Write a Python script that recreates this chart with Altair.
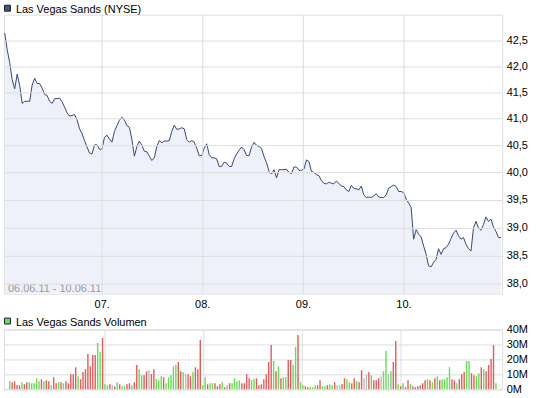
import altair as alt
import pandas as pd

FONT = "Liberation Sans"
TITLE_PRICE = "Las Vegas Sands (NYSE)"
TITLE_VOLUME = "Las Vegas Sands Volumen"
DATE_RANGE = "06.06.11 - 10.06.11"
DAY_LABELS = ["07.", "08.", "09.", "10."]
DAY_TICKS = [38.9, 79.2, 119.6, 159.9]
PRICE_TICKS = [38.0, 38.5, 39.0, 39.5, 40.0, 40.5, 41.0, 41.5, 42.0, 42.5]
VOLUME_TICKS = [0, 10, 20, 30, 40]
PRICE_DOMAIN = [37.83, 43.01]
VOLUME_DOMAIN = [0, 40]
X_DOMAIN = [-0.3, 199.5]

PRICE_D1 = [42.65, 42.32, 42.07, 41.74, 41.57, 41.85, 41.63, 41.29, 41.33, 41.33,
            41.33, 41.64, 41.77, 41.67, 41.67, 41.58, 41.46, 41.44, 41.33, 41.29,
            41.38, 41.38, 41.39, 41.32, 41.22, 41.11, 41.05, 41.06, 41.08, 40.98,
            40.81, 40.72, 40.59, 40.47, 40.36, 40.34, 40.51, 40.51, 40.43, 40.43]
PRICE_D2 = [40.65, 40.69, 40.62, 40.56, 40.76, 40.87, 40.97, 41.03, 40.97, 40.87,
            40.84, 40.61, 40.30, 40.48, 40.58, 40.50, 40.39, 40.38, 40.30, 40.22,
            40.27, 40.48, 40.59, 40.55, 40.58, 40.58, 40.59, 40.76, 40.88, 40.80,
            40.81, 40.83, 40.81, 40.61, 40.56, 40.59, 40.56, 40.45, 40.31, 40.31]
PRICE_D3 = [40.45, 40.53, 40.33, 40.27, 40.27, 40.25, 40.11, 40.11, 40.19, 40.17,
            40.11, 40.11, 40.25, 40.34, 40.41, 40.47, 40.42, 40.31, 40.31, 40.47,
            40.56, 40.50, 40.48, 40.44, 40.29, 40.18, 40.02, 39.97, 40.05, 39.90,
            40.05, 40.05, 40.05, 40.06, 40.00, 39.98, 40.10, 40.10, 40.04, 40.04]
PRICE_D4 = [40.06, 40.23, 40.20, 40.02, 40.00, 39.96, 39.94, 39.85, 39.80, 39.79,
            39.82, 39.80, 39.79, 39.84, 39.80, 39.75, 39.74, 39.68, 39.65, 39.76,
            39.71, 39.70, 39.68, 39.75, 39.59, 39.54, 39.55, 39.54, 39.57, 39.61,
            39.55, 39.54, 39.54, 39.59, 39.71, 39.74, 39.77, 39.74, 39.65, 39.65]
PRICE_D5 = [39.63, 39.51, 39.44, 39.36, 38.79, 38.96, 38.88, 38.83, 38.67, 38.52,
            38.32, 38.30, 38.38, 38.43, 38.62, 38.52, 38.62, 38.64, 38.70, 38.80,
            38.90, 38.95, 38.85, 38.79, 38.82, 38.70, 38.62, 38.58, 38.99, 39.11,
            38.99, 38.95, 39.05, 39.19, 39.11, 39.15, 39.01, 38.93, 38.82, 38.82]

VOL_D1 = [5.4, 4.7, 5.4, 2.7, 2.7, 4.7, 3.4, 4.7, 4.7, 4.0, 4.0, 7.4, 5.4, 6.7, 5.4, 6.0, 5.4, 2.7, 8.0, 4.0,
          4.7, 4.7, 4.0, 5.4, 4.0, 10.1, 10.1, 14.8, 8.8, 6.7, 11.5, 13.5, 23.6, 15.5, 22.9, 22.9, 31.0, 24.9, 34.4, 3.4]
VOL_D2 = [2.7, 3.4, 2.7, 2.0, 4.7, 3.4, 2.0, 2.0, 3.4, 4.0, 2.7, 4.7, 16.2, 13.5, 9.4, 9.4, 12.1, 12.8, 10.1, 13.5,
          6.7, 6.0, 8.8, 8.0, 4.0, 8.0, 9.4, 15.5, 16.2, 18.2, 12.1, 11.5, 10.1, 10.1, 8.8, 11.5, 14.8, 13.5, 33.0, 2.7]
VOL_D3 = [8.0, 3.4, 4.0, 4.0, 4.0, 2.0, 3.4, 4.7, 1.3, 2.7, 4.0, 4.0, 7.4, 5.4, 6.0, 4.0, 4.0, 10.1, 7.4, 6.0,
          6.7, 7.4, 2.7, 3.4, 6.7, 10.1, 18.2, 29.7, 18.9, 12.1, 15.5, 7.4, 8.0, 8.0, 19.6, 19.6, 16.2, 28.3, 36.4, 4.7]
VOL_D4 = [2.7, 2.0, 1.3, 1.3, 1.3, 2.7, 2.7, 6.0, 2.0, 2.0, 2.7, 3.4, 2.7, 4.7, 2.7, 2.7, 3.4, 7.4, 6.7, 4.7,
          4.0, 7.4, 5.4, 4.7, 12.8, 7.4, 10.1, 11.5, 9.4, 6.0, 6.0, 7.4, 8.8, 12.1, 25.6, 10.1, 12.1, 18.2, 32.4, 3.4]
VOL_D5 = [2.0, 4.0, 1.3, 6.0, 3.4, 2.0, 1.3, 2.0, 2.7, 4.0, 6.0, 6.7, 6.0, 4.7, 7.4, 8.8, 6.0, 6.7, 6.7, 8.0,
          14.8, 6.7, 6.0, 4.0, 6.7, 10.1, 11.5, 18.9, 18.9, 10.8, 9.4, 8.8, 10.8, 14.8, 13.5, 12.1, 16.2, 20.2, 29.7, 4.0]

# u = up (green), d = down (red), n = unchanged (grey)
DIR_D1 = "u d d d d u d d u u u u u d u d d u d d u d u d d d d d u d d d d d d d u u d u".split()
DIR_D2 = "u d n d u d u u d d u d d u u d d n d d u u u d u u u u u d d u n d d u d d d u".split()
DIR_D3 = "u d u u d d d u d u d u u u u d d d d u u d d d d d d d u d u d u u d d u u d u".split()
DIR_D4 = "u d d u u u d d u u d u u d n n d d u u d d u d d n n d u d d d n u u n u d d u".split()
DIR_D5 = "d u d d u d d d d d d u d u d u d u u u u d d u d d d u u d d u u d u d d d d u".split()

PRICE = PRICE_D1 + PRICE_D2 + PRICE_D3 + PRICE_D4 + PRICE_D5
VOLUME = VOL_D1 + VOL_D2 + VOL_D3 + VOL_D4 + VOL_D5
DIRECTION = DIR_D1 + DIR_D2 + DIR_D3 + DIR_D4 + DIR_D5
n = len(PRICE)
assert len(VOLUME) == n and len(DIRECTION) == n, (len(PRICE), len(VOLUME), len(DIRECTION))

df = pd.DataFrame({"t": list(range(n)), "price": PRICE, "volume": VOLUME, "dir": DIRECTION})

GRID = "#dddddd"
tick_list = "[" + ",".join(str(v) for v in DAY_TICKS) + "]"
label_list = "[" + ",".join("'" + s + "'" for s in DAY_LABELS) + "]"
day_label_expr = f"{label_list}[indexof({tick_list}, datum.value)]"

xscale = alt.Scale(domain=X_DOMAIN, nice=False, zero=False)

x_price = alt.X("t:Q", scale=xscale,
                axis=alt.Axis(values=DAY_TICKS, labelExpr=day_label_expr, grid=True, ticks=False,
                              tickSize=0, domain=False, title=None, labelPadding=5, labelFontSize=11,
                              labelColor="#000000", labelFont=FONT, gridColor=GRID, zindex=1,
                              labelFlush=False, labelOverlap=False))
y_price = alt.Y("price:Q",
                scale=alt.Scale(type="log", domain=PRICE_DOMAIN, nice=False, zero=False),
                axis=alt.Axis(orient="right", values=PRICE_TICKS,
                              labelExpr="replace(format(datum.value, '.1f'), '.', ',')",
                              grid=True, ticks=False, tickSize=0, domain=False, title=None,
                              labelPadding=4, labelFontSize=11, labelColor="#000000", labelFont=FONT,
                              gridColor=GRID, zindex=1, labelFlush=False, labelOverlap=False))

area = alt.Chart(df).mark_area(color="#eef1f9", clip=True).encode(
    x=x_price, y=y_price, y2=alt.datum(PRICE_DOMAIN[0]))
line = alt.Chart(df).mark_line(color="#34477a", strokeWidth=1, clip=True).encode(
    x="t:Q", y="price:Q")

title1 = pd.DataFrame({"label": [TITLE_PRICE]})
frame1 = alt.Chart(title1).mark_rect(opacity=0).encode(
    x=alt.value(-3), x2=alt.value(542), y=alt.value(-13), y2=alt.value(0))
sq1 = alt.Chart(title1).mark_rect(fill="#3f5085", stroke="#222222", strokeWidth=1).encode(
    x=alt.value(0.5), x2=alt.value(6.5), y=alt.value(-9.5), y2=alt.value(-3.5))
txt1 = alt.Chart(title1).mark_text(align="left", baseline="alphabetic", font=FONT, fontSize=11,
                                   color="#000000").encode(
    x=alt.value(12), y=alt.value(-2), text="label:N")
date_df = pd.DataFrame({"label": [DATE_RANGE]})
date_txt = alt.Chart(date_df).mark_text(align="left", baseline="alphabetic", font=FONT, fontSize=11,
                                        color="#999999").encode(
    x=alt.value(4), y=alt.value(278), text="label:N")

price_chart = alt.layer(area, line, frame1, sq1, txt1, date_txt).properties(width=500, height=280)

bars = alt.Chart(df).mark_bar(size=1.4, clip=True).encode(
    x=alt.X("t:Q", scale=xscale,
            axis=alt.Axis(values=DAY_TICKS, labels=False, grid=True, ticks=False, tickSize=0,
                          domain=False, title=None, gridColor=GRID)),
    y=alt.Y("volume:Q", scale=alt.Scale(domain=VOLUME_DOMAIN, nice=False, zero=True),
            axis=alt.Axis(orient="right", values=VOLUME_TICKS, labelExpr="datum.value + 'M'",
                          grid=True, ticks=False, tickSize=0, domain=False, title=None,
                          labelPadding=4, labelFontSize=11, labelColor="#000000", labelFont=FONT,
                          gridColor=GRID, labelFlush=False, labelOverlap=False)),
    color=alt.Color("dir:N", scale=alt.Scale(domain=["u", "d", "n"],
                                             range=["#66dd55", "#e05c5c", "#bbbbbb"]), legend=None))

title2 = pd.DataFrame({"label": [TITLE_VOLUME]})
frame2 = alt.Chart(title2).mark_rect(opacity=0).encode(
    x=alt.value(-3), x2=alt.value(542), y=alt.value(60), y2=alt.value(69))
sq2 = alt.Chart(title2).mark_rect(fill="#66dd66", stroke="#222222", strokeWidth=1).encode(
    x=alt.value(0.5), x2=alt.value(6.5), y=alt.value(-11.5), y2=alt.value(-5.5))
txt2 = alt.Chart(title2).mark_text(align="left", baseline="alphabetic", font=FONT, fontSize=11,
                                   color="#000000").encode(
    x=alt.value(12), y=alt.value(-4), text="label:N")

volume_chart = alt.layer(bars, frame2, sq2, txt2).properties(width=500, height=60)

chart = alt.vconcat(price_chart, volume_chart, spacing=36, bounds="flush").properties(
    padding=0,
    background="white",
).configure_view(stroke=GRID, strokeWidth=1)

chart.save("out.html", embed_options={"renderer": "svg", "actions": False})
